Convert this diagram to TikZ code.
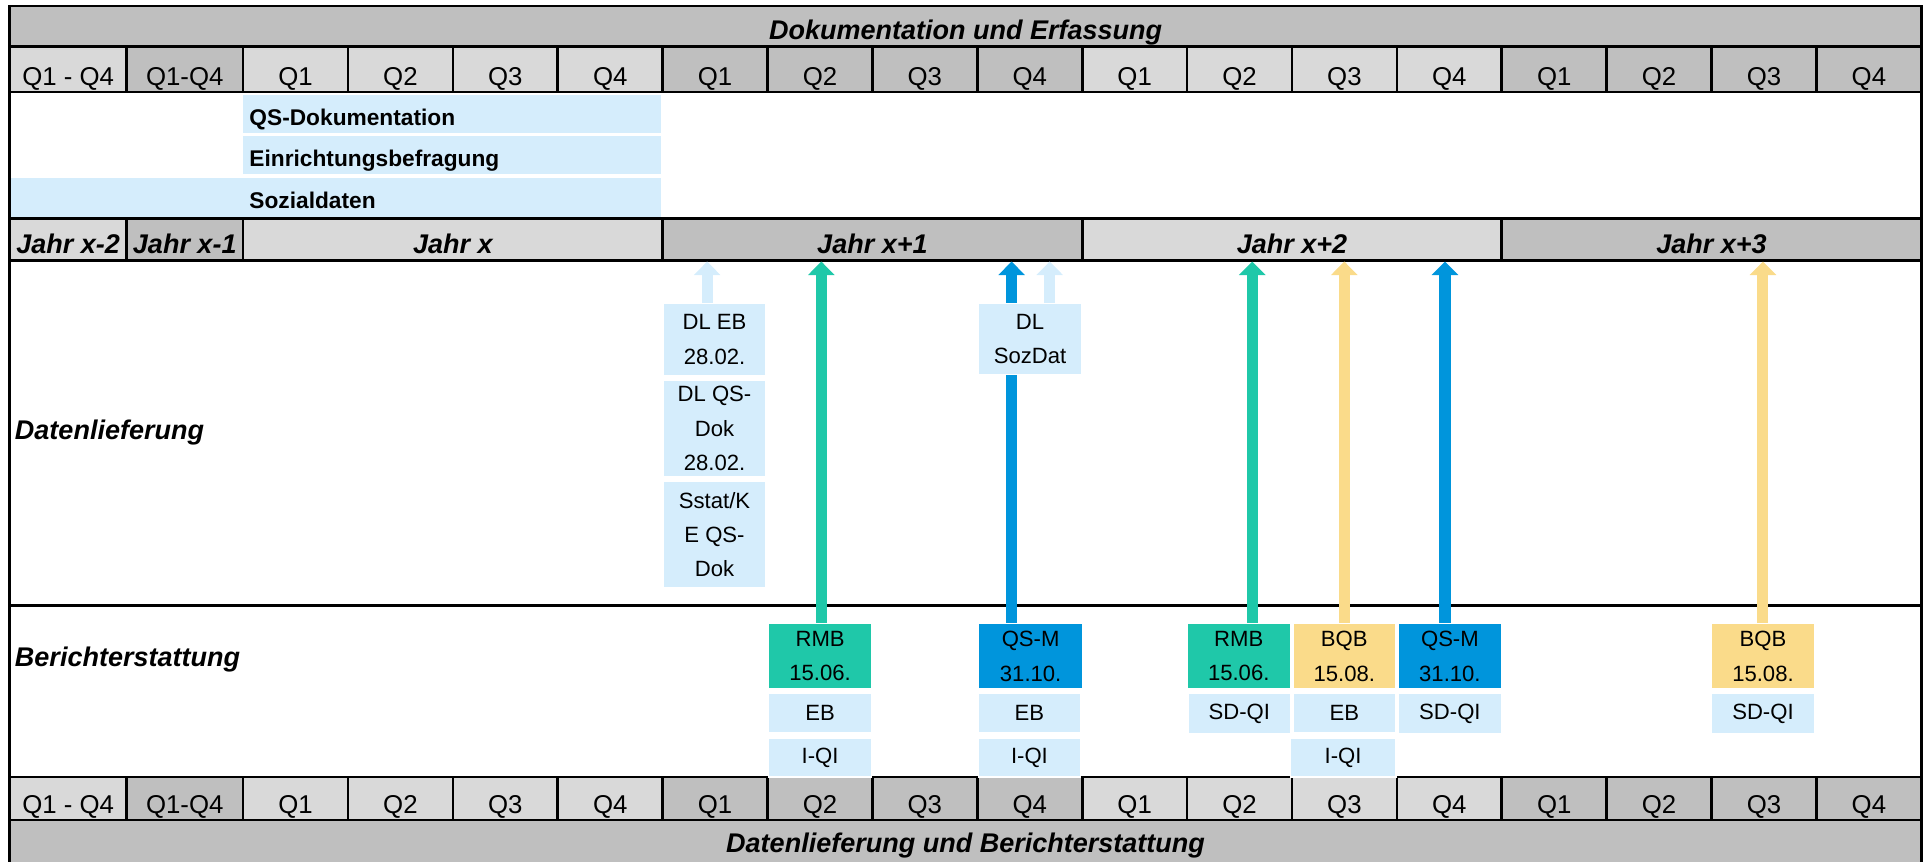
\documentclass[tikz,border=0pt]{standalone}
\usepackage{fontspec}
\setmainfont{Liberation Sans}
\usetikzlibrary{arrows.meta}
\definecolor{gD}{HTML}{BFBFBF}
\definecolor{gL}{HTML}{D9D9D9}
\definecolor{lb}{HTML}{D5EDFC}
\definecolor{gr}{HTML}{1FC8A9}
\definecolor{bl}{HTML}{0095DC}
\definecolor{ye}{HTML}{FADB8A}
\pgfdeclarelayer{bg}
\pgfdeclarelayer{mid}
\pgfsetlayers{bg,mid,main}
\tikzset{
  hd/.style={font=\fontsize{22}{24}\selectfont\bfseries\itshape, inner sep=0pt},
  ql/.style={font=\fontsize{21}{23}\selectfont, inner sep=0pt},
  barlab/.style={font=\fontsize{18.5}{20}\selectfont\bfseries, inner sep=0pt, anchor=base west},
  box/.style={inner sep=0pt, align=center, font=\fontsize{18}{28}\selectfont, draw=white, line width=1.2pt},
  gline/.style={line width=2.2pt, black},
  arr/.style={line width=9pt, -{Triangle[width=21pt,length=11pt]}},
}
\newcommand\cellbox[8]{%
  \begin{pgfonlayer}{bg}\fill[fill=#6] (#2,#4) rectangle (#3,#5);\end{pgfonlayer}
  \node[#7, anchor=base] (#1) at ({(#2+#3)/2},{#5-5.5}) {#8};}
\newcommand\bx[7]{\node[box, fill=#6, minimum width={#4pt-#2pt}, minimum height={#5pt-#3pt}] (#1) at ({(#2+#4)/2},{(#3+#5)/2}) {#7};}
\begin{document}
\begin{tikzpicture}[x=1pt,y=-1pt]
\useasboundingbox (0,0) rectangle (1568,702);
% title rows
\begin{pgfonlayer}{bg}
  \fill[gD] (8,5) rectangle (1565,38);
  \fill[gD] (8,668) rectangle (1565,703);
  \fill[lb] (198,77) rectangle (538,108);
  \fill[lb] (198,111) rectangle (538,142);
  \fill[lb] (8,145) rectangle (538,177.5);
\end{pgfonlayer}
\node[hd, anchor=base] (ttop) at (786.5,32.5) {Dokumentation und Erfassung};
\node[hd, anchor=base] (tbot) at (786.5,694) {Datenlieferung und Berichterstattung};
% quarter rows
\cellbox{qtA}{8}{103}{38}{75}{gL}{ql}{Q1 - Q4}
\cellbox{qtB}{103}{198}{38}{75}{gD}{ql}{Q1-Q4}
\cellbox{qbA}{8}{103}{633}{668}{gL}{ql}{Q1 - Q4}
\cellbox{qbB}{103}{198}{633}{668}{gD}{ql}{Q1-Q4}
\foreach \i in {0,...,15}{
  \pgfmathsetmacro\xa{198+85.4375*\i}
  \pgfmathsetmacro\xb{\xa+85.4375}
  \pgfmathtruncatemacro\yr{floor(\i/4)}
  \pgfmathtruncatemacro\qn{mod(\i,4)+1}
  \ifodd\yr \def\cc{gD}\else\def\cc{gL}\fi
  \cellbox{qt\i}{\xa}{\xb}{38}{75}{\cc}{ql}{Q\qn}
  \cellbox{qb\i}{\xa}{\xb}{633}{668}{\cc}{ql}{Q\qn}
}
% year row
\cellbox{j0}{8}{103}{178}{212}{gL}{hd}{Jahr x-2}
\cellbox{j1}{103}{198}{178}{212}{gD}{hd}{Jahr x-1}
\cellbox{j2}{198}{539.75}{178}{212}{gL}{hd}{Jahr x}
\cellbox{j3}{539.75}{881.5}{178}{212}{gD}{hd}{Jahr x+1}
\cellbox{j4}{881.5}{1223.25}{178}{212}{gL}{hd}{Jahr x+2}
\cellbox{j5}{1223.25}{1565}{178}{212}{gD}{hd}{Jahr x+3}
% grid lines
\begin{pgfonlayer}{bg}
  \foreach \yy in {38,75,178,212,493,633,668}{\draw[gline] (8,\yy) -- (1565,\yy);}
  \foreach \xx in {103,198}{\draw[gline] (\xx,38) -- (\xx,75); \draw[gline] (\xx,633) -- (\xx,668); \draw[gline] (\xx,178) -- (\xx,212);}
  \foreach \i in {1,...,15}{\pgfmathsetmacro\xa{198+85.4375*\i}
    \draw[gline] (\xa,38) -- (\xa,75); \draw[gline] (\xa,633) -- (\xa,668);}
  \foreach \xx in {539.75,881.5,1223.25}{\draw[gline] (\xx,178) -- (\xx,212);}
  \draw[gline] (8,704) -- (8,5) -- (1565,5) -- (1565,704);
\end{pgfonlayer}
% bar labels
\node[barlab] (lqs) at (203,102.5) {QS-Dokumentation};
\node[barlab] (lein) at (203,136) {Einrichtungsbefragung};
\node[barlab] (lsoz) at (203,169.5) {Sozialdaten};
% section labels
\node[hd, anchor=base west] (ldl) at (12,358) {Datenlieferung};
\node[hd, anchor=base west] (lber) at (12,543) {Berichterstattung};
% Datenlieferung boxes
\bx{dlEB}{540}{247}{624}{306}{lb}{DL EB\\28.02.}
\bx{dlQS}{540}{310}{624}{388}{lb}{DL QS-\\Dok\\28.02.}
\bx{sstat}{540}{392}{624}{479}{lb}{Sstat/K\\E QS-\\Dok}
\bx{dlSD}{797}{247}{881}{305}{lb}{DL\\SozDat}
% Berichterstattung boxes
\bx{rmbA}{626}{508}{710}{561}{gr}{RMB\\15.06.}
\bx{ebA}{626}{565}{710}{597}{lb}{EB}
\bx{iqA}{626}{601}{710}{633}{lb}{I-QI}
\bx{qsmA}{797}{508}{882}{561}{bl}{QS-M\\31.10.}
\bx{ebB}{797}{565}{880}{597}{lb}{EB}
\bx{iqB}{797}{601}{880}{633}{lb}{I-QI}
\bx{rmbB}{967}{508}{1051}{561}{gr}{RMB\\15.06.}
\bx{sdA}{968}{565}{1051}{598}{lb}{SD-QI}
\bx{bqbA}{1053}{508}{1137}{561}{ye}{BQB\\15.08.}
\bx{ebC}{1053}{565}{1137}{597}{lb}{EB}
\bx{iqC}{1051}{601}{1137}{633}{lb}{I-QI}
\bx{qsmB}{1139}{508}{1223}{561}{bl}{QS-M\\31.10.}
\bx{sdB}{1139}{565}{1223}{598}{lb}{SD-QI}
\bx{bqbB}{1394}{508}{1478}{561}{ye}{BQB\\15.08.}
\bx{sdC}{1394}{565}{1478}{598}{lb}{SD-QI}
% arrow ends
\coordinate (aLB1) at (576,213);
\coordinate (aG1) at (669,213);
\coordinate (aB1) at (824,213);
\coordinate (aLB2) at (855,213);
\coordinate (aG2) at (1020,213);
\coordinate (aY1) at (1095,213);
\coordinate (aB2) at (1177,213);
\coordinate (aY2) at (1436,213);
\begin{pgfonlayer}{mid}
  \draw[arr, lb] (dlEB.north -| aLB1) -- (aLB1);
  \draw[arr, gr] (rmbA.north -| aG1) -- (aG1);
  \draw[arr, bl] (qsmA.north -| aB1) -- (aB1);
  \draw[arr, lb] (dlSD.north -| aLB2) -- (aLB2);
  \draw[arr, gr] (rmbB.north -| aG2) -- (aG2);
  \draw[arr, ye] (bqbA.north -| aY1) -- (aY1);
  \draw[arr, bl] (qsmB.north -| aB2) -- (aB2);
  \draw[arr, ye] (bqbB.north -| aY2) -- (aY2);
\end{pgfonlayer}
\end{tikzpicture}
\end{document}
